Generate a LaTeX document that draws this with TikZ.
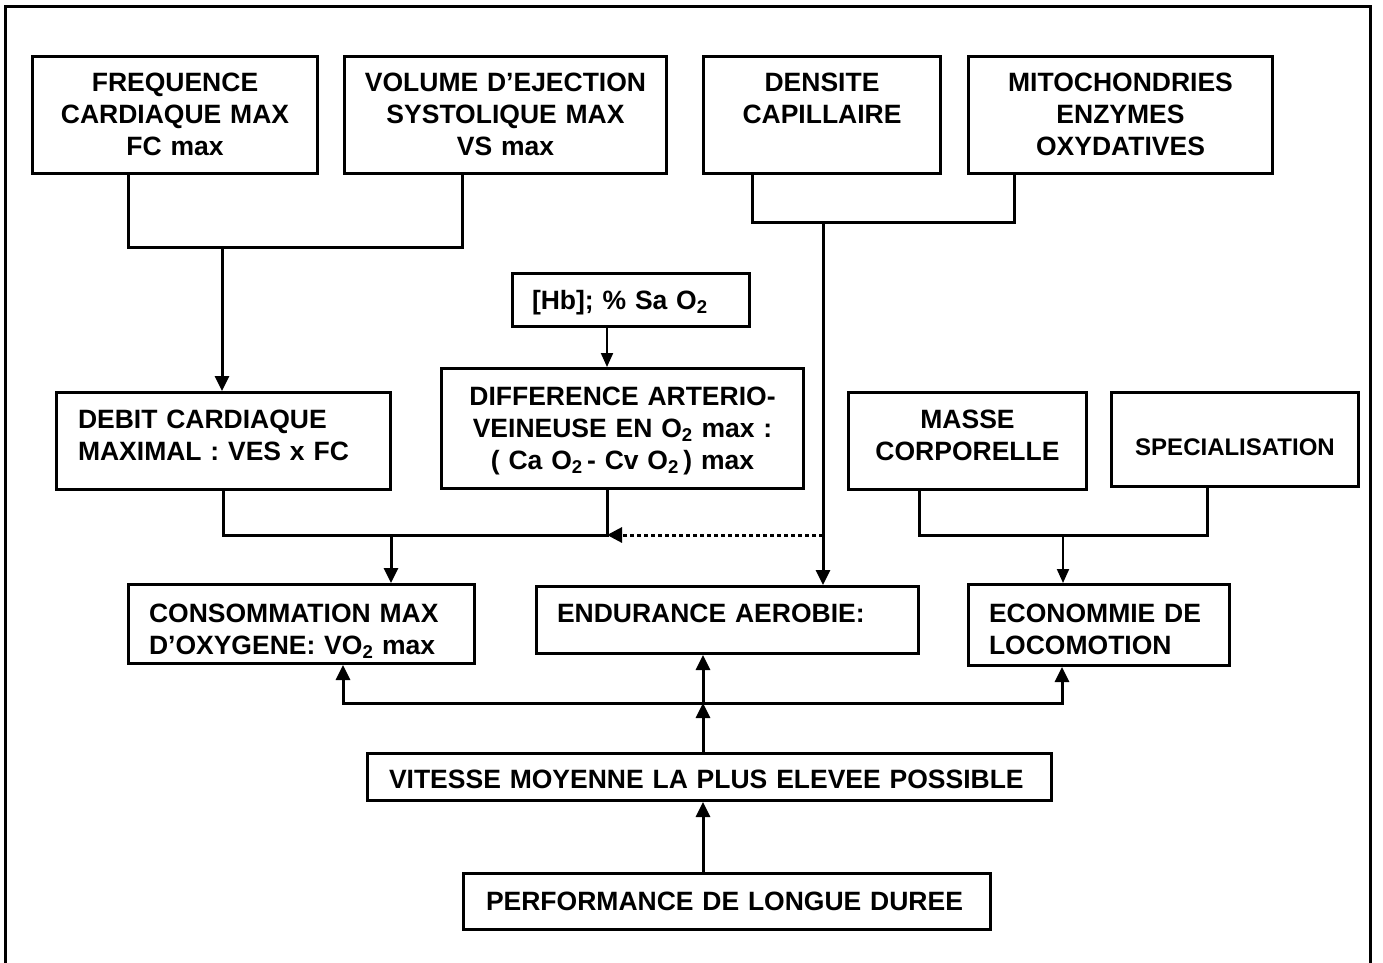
\documentclass[tikz,border=0pt]{standalone}
\usepackage{fontspec}
\setmainfont{Liberation Sans}
\usetikzlibrary{arrows.meta}
\newcommand\mainfnt{\bfseries\fontsize{26.5}{32}\selectfont}
\newcommand\specfnt{\bfseries\fontsize{24}{29}\selectfont}
\begin{document}
\begin{tikzpicture}[x=1pt,y=-1pt,
  box/.style={draw, line width=3pt, inner sep=0pt, font=\mainfnt},
  cbox/.style={box, align=center},
  tp/.style 2 args={text height=#1, text depth=#2},
  frame/.style={line width=3pt},
  conn/.style={line width=3pt},
  thinconn/.style={line width=2pt},
  arr/.style={conn, -{Triangle[length=15pt,width=14pt]}},
  thinarr/.style={thinconn, -{Triangle[length=14pt,width=12pt]}},
  dotarr/.style={line width=3pt, dash pattern=on 4pt off 3pt, -{Triangle[length=15pt,width=15pt]}}
]
\useasboundingbox (0,0) rectangle (1383,963);
\draw[frame] (5,966) -- (5,7) -- (1370,7) -- (1370,966);

% top row
\node[cbox, text width=270pt, minimum width=285pt, minimum height=117pt, tp={27pt}{73pt}] (freq) at (175,115) {FREQUENCE\\CARDIAQUE MAX\\FC max};
\node[cbox, text width=310pt, minimum width=322pt, minimum height=117pt, tp={27pt}{73pt}] (vol) at (505.5,115) {VOLUME D’EJECTION\\SYSTOLIQUE MAX\\VS max};
\node[cbox, text width=220pt, minimum width=237pt, minimum height=117pt, tp={27pt}{73pt}] (dens) at (822,115) {DENSITE\\CAPILLAIRE};
\node[cbox, text width=290pt, minimum width=304pt, minimum height=117pt, tp={27pt}{73pt}] (mito) at (1120.5,115) {MITOCHONDRIES\\ENZYMES\\OXYDATIVES};

% middle
\node[box, align=left, text width=198pt, minimum width=237pt, minimum height=53pt, tp={29.5pt}{10.5pt}] (hb) at (631,300) {[Hb]; \% Sa O\textsubscript{2}};
\node[cbox, text width=350pt, minimum width=362pt, minimum height=120pt, tp={26.5pt}{73.5pt}] (diff) at (622.5,428.5) {DIFFERENCE ARTERIO-\\VEINEUSE EN O\textsubscript{2} max :\\( Ca O\textsubscript{2}\,- Cv O\textsubscript{2}\,) max};
\node[box, align=left, text width=291pt, minimum width=334pt, minimum height=97pt, tp={32pt}{58pt}] (debit) at (223.5,441) {DEBIT CARDIAQUE\\MAXIMAL : VES x FC};
\node[cbox, text width=225pt, minimum width=238pt, minimum height=97pt, tp={32pt}{58pt}] (masse) at (967.5,441) {MASSE\\CORPORELLE};
\node[cbox, text width=240pt, font=\specfnt, minimum width=247pt, minimum height=94pt, tp={45.5pt}{14.5pt}] (spec) at (1235,439.5) {SPECIALISATION};

% third row
\node[box, align=left, text width=305pt, minimum width=346pt, minimum height=79pt, tp={33pt}{37pt}] (cons) at (301.5,624) {CONSOMMATION MAX\\D’OXYGENE: VO\textsubscript{2} max};
\node[box, align=left, text width=341pt, minimum width=382pt, minimum height=67pt, tp={32pt}{28pt}] (endu) at (727.5,620) {ENDURANCE AEROBIE:};
\node[box, align=left, text width=220pt, minimum width=261pt, minimum height=81pt, tp={32pt}{38pt}] (econ) at (1099,625) {ECONOMMIE DE\\LOCOMOTION};

% bottom
\node[box, align=left, text width=641pt, minimum width=684pt, minimum height=47pt, tp={31pt}{9pt}] (vit) at (709.5,777) {VITESSE MOYENNE LA PLUS ELEVEE POSSIBLE};
\node[box, align=left, text width=482pt, minimum width=527pt, minimum height=56pt, tp={28.5pt}{11.5pt}] (perf) at (727,901.5) {PERFORMANCE DE LONGUE DUREE};

% junction coordinates
\coordinate (j1) at (222,247);
\coordinate (j2) at (823,222);
\coordinate (j3) at (391,535);
\coordinate (j4) at (1063,535);
\coordinate (j5) at (703,703);
\coordinate (d1) at (823,535);
\coordinate (d2) at (607,535);

% connectors
\draw[conn] ([xshift=-47pt]freq.south) |- (j1) -| ([xshift=-43.5pt]vol.south);
\draw[arr] (j1) -- (debit.north -| j1);
\draw[conn] ([xshift=-70pt]dens.south) |- (j2) -| ([xshift=-106.5pt]mito.south);
\draw[arr] (j2) -- (endu.north -| j2);
\draw[thinarr] ([xshift=-24pt]hb.south) -- ([xshift=-15.5pt]diff.north);
\draw[conn] ([xshift=-0.5pt]debit.south) |- (j3) -| ([xshift=-15.5pt]diff.south);
\draw[arr] (j3) -- (cons.north -| j3);
\draw[dotarr] (d1) -- (d2);
\draw[conn] ([xshift=-48.5pt]masse.south) |- (j4) -| ([xshift=-28pt]spec.south);
\draw[thinarr] (j4) -- (econ.north -| j4);
\draw[arr] ([xshift=-24pt]perf.north) -- ([xshift=-6.5pt]vit.south);
\draw[arr] ([xshift=-6.5pt]vit.north) -- (j5);
\draw[arr] (j5) -- (endu.south -| j5);
\draw[arr] (j5) -| ([xshift=41.5pt]cons.south);
\draw[arr] (j5) -| ([xshift=-37pt]econ.south);
\end{tikzpicture}
\end{document}
